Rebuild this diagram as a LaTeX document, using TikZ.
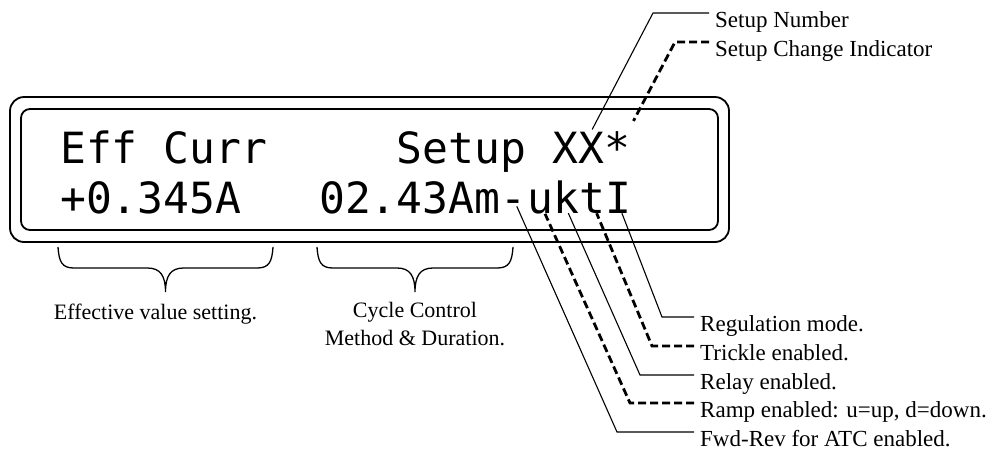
\documentclass[tikz,border=0pt]{standalone}
\usepackage{fontspec}
\setmainfont{Liberation Serif}
\newfontfamily\lcdfont{DejaVu Sans Mono}
\usetikzlibrary{positioning, calc}

\begin{document}
\begin{tikzpicture}[x=1pt,y=-1pt,
    lcd/.style={font=\lcdfont\fontsize{43}{50}\selectfont,inner sep=0pt,anchor=base west},
    lbl/.style={font=\fontsize{23}{28}\selectfont,inner sep=6pt,text height=29pt,text depth=0pt,anchor=west},
    capt/.style={font=\fontsize{22}{28}\selectfont,inner sep=0pt,align=center,anchor=north},
    lead/.style={line width=1.1pt},
    dlead/.style={line width=2.8pt,dash pattern=on 8pt off 4pt},
    frm/.style={line width=1.8pt},
    brc/.style={line width=1.3pt}]
  \useasboundingbox (0,0) rectangle (1001,451);
  % display frame
  \draw[frm,rounded corners=14pt] (10,97) rectangle (729,242);
  \draw[frm,rounded corners=9pt] (21,109) rectangle (718,230);
  % display text
  \node[lcd] (eff) at (60,163) {Eff Curr};
  \node[lcd] (setup) at (396.7,163) {Setup};
  \node[lcd] (num) at (552,163) {XX};
  \node[lcd,base right=0pt of num] (chg) {*};
  \node[lcd] (val) at (60,213) {+0.345A};
  \node[lcd] (cyc) at (319,213) {02.43Am};
  \node[lcd,base right=0pt of cyc] (cFwd) {-};
  \node[lcd,base right=0pt of cFwd] (cRmp) {u};
  \node[lcd,base right=0pt of cRmp] (cRly) {k};
  \node[lcd,base right=0pt of cRly] (cTrk) {t};
  \node[lcd,base right=0pt of cTrk] (cReg) {I};
  % braces
  \foreach \a/\b/\t in {58/273/tEff,317/513/tCyc}{
    \pgfmathsetmacro\m{(\a+\b)/2}
    \draw[brc] (\a,247) .. controls (\a+1,262) and (\a+4,268) .. (\a+16,268) -- (\m-18,268)
      .. controls (\m-5,268) and (\m,276) .. (\m,292) coordinate (\t)
      .. controls (\m,276) and (\m+5,268) .. (\m+18,268) -- (\b-16,268)
      .. controls (\b-4,268) and (\b-1,262) .. (\b,247);
  }
  \node[capt] (lEff) at ($(tEff)+(-10,12)$) {Effective value setting.};
  \node[capt] (lCyc) at ($(tCyc)+(0,10)$) {Cycle Control\\Method \& Duration.};
  % labels
  \node[lbl] (lNum) at (709,13) {Setup Number};
  \node[lbl] (lChg) at (709,42) {Setup Change Indicator};
  \node[lbl] (lReg) at (694,317) {Regulation mode.};
  \node[lbl] (lTrk) at (694,346) {Trickle enabled.};
  \node[lbl] (lRly) at (694,375) {Relay enabled.};
  \node[lbl] (lRmp) at (694,403) {Ramp enabled: u=up, d=down.};
  \node[lbl] (lFwd) at (694,432) {Fwd-Rev for ATC enabled.};
  % leaders
  \draw[lead] (lNum.west) -- ++(-56,0) -- ($(num.north east)+(-12,-2)$);
  \draw[dlead] (lChg.west) -- ++(-34,0) -- ($(chg.north east)+(3,-10)$);
  \draw[lead] (lReg.west) -- ++(-32,0) -- ($(cReg.south)+(3,0)$);
  \draw[dlead] (lTrk.west) -- ++(-42,0) -- ($(cTrk.south)+(4,0)$);
  \draw[lead] (lRly.west) -- ++(-54,0) -- ($(cRly.south)+(2,0)$);
  \draw[dlead] (lRmp.west) -- ++(-64,0) -- ($(cRmp.south)+(5,0)$);
  \draw[lead] (lFwd.west) -- ++(-77,0) -- ($(cFwd.center)+(3,0)$);
\end{tikzpicture}
\end{document}
